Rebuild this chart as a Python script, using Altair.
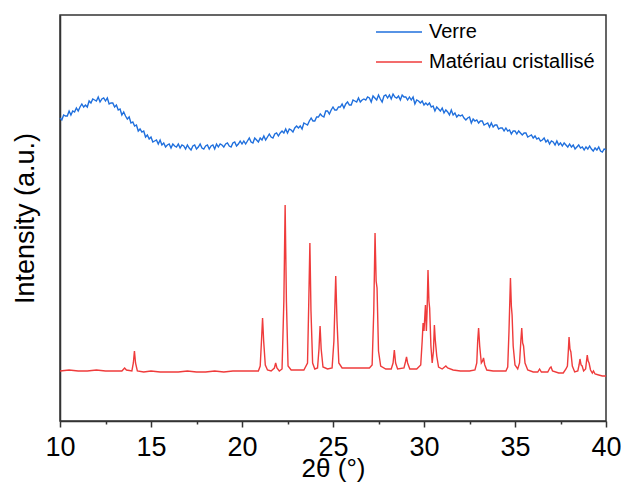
import altair as alt
import numpy as np
import pandas as pd

# ---- data (intensity in arbitrary units) ----
# "Verre": sampled every 0.1 deg from 10 to 40 deg
verre_intensity = [
    303, 301, 306, 305, 305, 310, 306, 310, 309, 313,
    310, 314, 317, 314, 316, 314, 320, 318, 322, 321,
    320, 324, 319, 322, 323, 320, 323, 317, 318, 318,
    314, 316, 311, 312, 306, 309, 305, 302, 304, 298,
    299, 295, 296, 290, 292, 289, 290, 284, 286, 282,
    284, 279, 280, 281, 277, 281, 276, 278, 274, 276,
    277, 273, 277, 275, 274, 277, 273, 276, 275, 272,
    276, 273, 271, 275, 276, 272, 274, 277, 273, 272,
    275, 276, 272, 275, 276, 272, 277, 274, 277, 276,
    274, 277, 278, 275, 274, 278, 279, 275, 277, 280,
    277, 280, 277, 280, 283, 279, 278, 283, 281, 279,
    283, 281, 285, 281, 284, 287, 284, 283, 287, 288,
    285, 288, 290, 288, 292, 288, 292, 291, 289, 293,
    295, 293, 295, 292, 298, 297, 296, 300, 303, 300,
    300, 304, 304, 307, 305, 304, 310, 310, 307, 311,
    314, 311, 311, 314, 314, 317, 313, 317, 319, 316,
    316, 321, 320, 319, 323, 319, 321, 322, 321, 324,
    323, 319, 325, 323, 321, 326, 322, 319, 325, 326,
    323, 326, 322, 327, 324, 323, 325, 321, 326, 324,
    324, 321, 324, 321, 324, 317, 321, 320, 318, 320,
    316, 318, 316, 318, 314, 315, 310, 314, 312, 310,
    313, 308, 311, 309, 306, 311, 306, 308, 304, 306,
    305, 306, 303, 301, 303, 304, 298, 302, 300, 301,
    298, 300, 300, 296, 297, 298, 294, 298, 294, 296,
    296, 292, 293, 293, 290, 293, 290, 291, 287, 290,
    290, 287, 290, 288, 286, 288, 288, 284, 285, 286,
    283, 285, 282, 283, 280, 281, 283, 279, 281, 277,
    280, 279, 276, 280, 276, 278, 275, 278, 276, 274,
    277, 274, 276, 272, 274, 276, 273, 274, 271, 274,
    272, 275, 272, 270, 273, 271, 274, 270, 269, 272,
    271,
]
verre_angle = np.linspace(10, 40, len(verre_intensity))

cristal_angle = [
    10.0, 10.5, 11.0, 11.5, 12.0, 12.5, 13.0, 13.4, 13.55, 13.65,
    13.95, 14.03, 14.09, 14.15, 14.25, 14.6, 15.0, 15.5, 16.0, 16.5,
    17.0, 17.5, 18.0, 18.5, 19.0, 19.5, 20.0, 20.5, 20.9, 21.0,
    21.07, 21.13, 21.19, 21.28, 21.4, 21.6, 21.78, 21.85, 21.92, 22.05,
    22.2, 22.3, 22.37, 22.44, 22.53, 22.7, 23.0, 23.4, 23.6, 23.67,
    23.73, 23.79, 23.88, 24.0, 24.15, 24.23, 24.29, 24.35, 24.45, 24.7,
    24.95, 25.05, 25.15, 25.22, 25.32, 25.5, 26.0, 26.5, 27.0, 27.15,
    27.24, 27.31, 27.37, 27.42, 27.5, 27.62, 27.9, 28.2, 28.3, 28.37,
    28.44, 28.55, 28.9, 28.98, 29.04, 29.1, 29.22, 29.6, 29.82, 29.9,
    29.95, 30.0, 30.08, 30.13, 30.17, 30.22, 30.27, 30.31, 30.38, 30.45,
    30.52, 30.57, 30.62, 30.7, 30.8, 31.0, 31.2, 31.3, 31.6, 32.0,
    32.5, 32.8, 32.9, 32.95, 33.0, 33.06, 33.15, 33.22, 33.27, 33.34,
    33.45, 33.8, 34.2, 34.5, 34.6, 34.67, 34.75, 34.8, 34.84, 34.9,
    35.0, 35.15, 35.25, 35.32, 35.37, 35.42, 35.47, 35.55, 35.7, 36.0,
    36.25, 36.35, 36.45, 36.8, 36.92, 36.98, 37.06, 37.4, 37.65, 37.8,
    37.88, 37.93, 37.97, 38.02, 38.07, 38.15, 38.28, 38.45, 38.52, 38.57,
    38.63, 38.69, 38.77, 38.88, 38.93, 38.97, 39.02, 39.07, 39.15, 39.25,
    39.31, 39.4, 39.6, 39.8, 40.0,
]
cristal_intensity = [
    50, 51, 50, 50, 51, 50, 50, 50, 53, 51,
    50, 58, 70, 58, 50, 49, 50, 49, 49, 49,
    50, 49, 49, 50, 49, 50, 50, 50, 50, 55,
    80, 103, 80, 56, 51, 50, 53, 58, 53, 50,
    52, 120, 216, 120, 55, 51, 51, 51, 58, 120,
    178, 110, 58, 52, 53, 72, 95, 72, 54, 52,
    53, 80, 145, 100, 58, 53, 53, 53, 53, 56,
    110, 188, 140, 133, 70, 55, 52, 52, 58, 71,
    58, 52, 53, 59, 64, 58, 52, 52, 56, 80,
    98, 90, 116, 90, 110, 151, 120, 113, 75, 58,
    70, 96, 81, 65, 54, 52, 55, 53, 51, 50,
    50, 51, 58, 80, 93, 75, 58, 60, 63, 56,
    51, 50, 50, 50, 54, 90, 143, 115, 106, 75,
    56, 52, 58, 80, 93, 78, 75, 58, 51, 49,
    49, 52, 49, 49, 53, 54, 50, 48, 48, 52,
    55, 70, 84, 72, 69, 55, 49, 50, 56, 62,
    56, 55, 50, 52, 60, 66, 60, 58, 51, 48,
    50, 47, 46, 45, 45,
]

series_names = ["Verre", "Matériau cristallisé"]
series_colors = ["#1f6fdd", "#ef3b3b"]
x_ticks = [10, 12.5, 15, 17.5, 20, 22.5, 25, 27.5, 30, 32.5, 35, 37.5, 40]

df = pd.concat([
    pd.DataFrame({"angle": verre_angle, "intensity": verre_intensity,
                  "serie": series_names[0], "order": 0}),
    pd.DataFrame({"angle": cristal_angle, "intensity": cristal_intensity,
                  "serie": series_names[1], "order": 1}),
], ignore_index=True)

FONT = "Liberation Sans"

chart = alt.Chart(df).mark_line(strokeWidth=1.4).encode(
    x=alt.X("angle:Q",
            scale=alt.Scale(domain=[10, 40], nice=False, zero=False),
            axis=alt.Axis(title="2θ (°)", values=x_ticks, grid=False,
                          labelExpr="datum.value % 5 === 0 ? datum.label : ''",
                          tickSize={"condition": {"test": "datum.value % 5 === 0", "value": 6}, "value": 3},
                          labelFontSize=27, labelFont=FONT, labelColor="black",
                          labelPadding=7, labelFlush=False, labelOverlap=False,
                          titleFontSize=26, titleFont=FONT, titleFontWeight="normal",
                          titleColor="black", titlePadding=-5,
                          domainColor="#333", domainWidth=1.5,
                          tickColor="#333", tickWidth=1.5)),
    y=alt.Y("intensity:Q",
            scale=alt.Scale(domain=[0, 406], nice=False, zero=False),
            axis=alt.Axis(title="Intensity (a.u.)", labels=False, ticks=False, grid=False,
                          titleFontSize=27, titleFont=FONT, titleFontWeight="normal",
                          titleColor="black", titlePadding=21,
                          domainColor="#333", domainWidth=1.5)),
    color=alt.Color("serie:N",
                    scale=alt.Scale(domain=series_names, range=series_colors),
                    legend=alt.Legend(title=None, orient="none", legendX=315, legendY=6,
                                      symbolType="stroke", symbolSize=2116,
                                      symbolStrokeWidth=1.5, labelFontSize=20,
                                      labelFont=FONT, labelColor="black", labelLimit=400,
                                      labelOffset=6, clipHeight=22, rowPadding=8, padding=0)),
    order="order:Q",
    detail="serie:N",
).properties(
    width=546, height=406,
    autosize=alt.AutoSizeParams(type="none"),
    padding={"left": 52, "top": 7, "right": 15, "bottom": 63},
).configure_view(stroke="#333", strokeWidth=1.5)

chart.save("out.html", embed_options={"renderer": "svg", "actions": False})
